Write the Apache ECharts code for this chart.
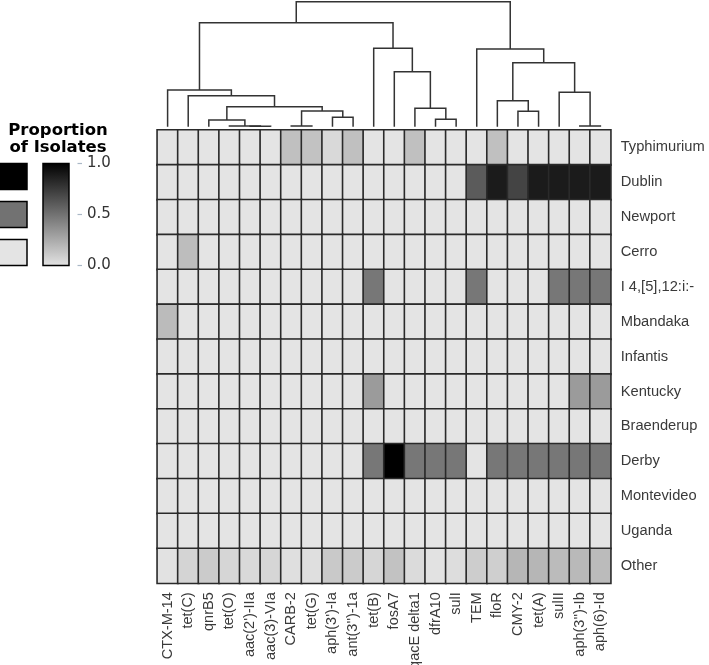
<!DOCTYPE html>
<html>
<head>
<meta charset="utf-8">
<script src="https://cdn.jsdelivr.net/npm/echarts@6.0.0/dist/echarts.min.js"></script>
<style>
html,body{margin:0;padding:0;background:#fff;}
#chart{width:709px;height:665px;}
</style>
</head>
<body>
<div id="chart"></div>
<script>
// ---------- DATA ----------
const genes = ['CTX-M-14','tet(C)','qnrB5','tet(O)',"aac(2')-IIa",'aac(3)-VIa','CARB-2','tet(G)',"aph(3')-Ia","ant(3'')-1a",
  'tet(B)','fosA7','qacE delta1','dfrA10','sulI','TEM','floR','CMY-2','tet(A)','sulII',"aph(3'')-Ib",'aph(6)-Id'];
const serotypes = ['Typhimurium','Dublin','Newport','Cerro','I 4,[5],12:i:-','Mbandaka','Infantis','Kentucky','Braenderup','Derby','Montevideo','Uganda','Other'];

const typhimurium = [0,0,0,0,0,0,0.16,0.15,0.05,0.16,0,0,0.16,0,0,0,0.16,0,0,0,0,0];
const dublin      = [0,0,0,0,0,0,0,0,0,0,0,0,0,0,0,0.6,0.88,0.7,0.88,0.88,0.88,0.88];
const newport     = [0,0,0,0,0,0,0,0,0,0,0,0,0,0,0,0,0,0,0,0,0,0];
const cerro       = [0,0.17,0,0,0,0,0,0,0,0,0,0,0,0,0,0,0,0,0,0,0,0];
const i4512       = [0,0,0,0,0,0,0,0,0,0,0.48,0,0,0,0,0.48,0,0,0,0.48,0.48,0.48];
const mbandaka    = [0.18,0,0,0,0,0,0,0,0,0,0,0,0,0,0,0,0,0,0,0,0,0];
const infantis    = [0,0,0,0,0,0,0,0,0,0,0,0,0,0,0,0,0,0,0,0,0,0];
const kentucky    = [0,0,0,0,0,0,0,0,0,0,0.32,0,0,0,0,0,0,0,0,0,0.32,0.32];
const braenderup  = [0,0,0,0,0,0,0,0,0,0,0,0,0,0,0,0,0,0,0,0,0,0];
const derby       = [0,0,0,0,0,0,0,0,0,0,0.48,1.0,0.48,0.48,0.48,0,0.48,0.48,0.48,0.48,0.48,0.48];
const montevideo  = [0,0,0,0,0,0,0,0,0,0,0,0,0,0,0,0,0,0,0,0,0,0];
const uganda      = [0,0,0,0,0,0,0,0,0,0,0,0,0,0,0,0,0,0,0,0,0,0];
const other       = [0.01,0.07,0.11,0.06,0.05,0.06,0.02,0.02,0.12,0.11,0.06,0.15,0.04,0.01,0.03,0.1,0.09,0.2,0.2,0.18,0.19,0.18];
const rowValues = [typhimurium,dublin,newport,cerro,i4512,mbandaka,infantis,kentucky,braenderup,derby,montevideo,uganda,other];

// Dendrogram merges (hclust style): negative = leaf (1-based column), positive = earlier merge (1-based); height relative to root
const dendroMerges = [
  [-5,-6,0.004],   // 1
  [-4,1,0.005],    // 2
  [-7,-8,0.005],   // 3
  [-21,-22,0.005], // 4
  [-3,2,0.053],    // 5
  [-14,-15,0.059], // 6
  [-9,-10,0.075],  // 7
  [-18,-19,0.123], // 8
  [3,7,0.125],     // 9
  [-13,6,0.147],   // 10
  [5,9,0.16],      // 11
  [-17,8,0.208],   // 12
  [-2,11,0.248],   // 13
  [-20,4,0.275],   // 14
  [-1,13,0.293],   // 15
  [-12,10,0.44],   // 16
  [12,14,0.512],   // 17
  [-16,17,0.621],  // 18
  [-11,16,0.627],  // 19
  [15,19,0.832],   // 20
  [20,18,1.0]      // 21
];

const legendTicks = [0.0, 0.5, 1.0];
const legendSwatches = [1.0, 0.5, 0.0];

// ---------- BUILD ----------
const heatData = [];
rowValues.forEach((vals, r) => vals.forEach((v, c) => heatData.push([c, r, v])));

const nodePos = []; // [x, h]
const dendroData = [];
function pos(ref) { return ref < 0 ? [-ref, 0] : nodePos[ref - 1]; }
dendroMerges.forEach(m => {
  const a = pos(m[0]), b = pos(m[1]);
  nodePos.push([(a[0] + b[0]) / 2, m[2]]);
  dendroData.push([a[0], a[1], b[0], b[1], m[2]]);
});

const GL = 157.3, GT = 130, GW = 453.4, GH = 453.3;
const lightC = '#e4e4e4', darkC = '#000000';
function grayOf(v){ const g = Math.round(228*(1-v)); const h = g.toString(16).padStart(2,'0'); return '#'+h+h+h; }

const cbX = 43, cbY = 163.5, cbW = 26, cbH = 102;
const graphics = [
  { type:'text', x:58, y:121.5, style:{ text:'Proportion\nof Isolates', align:'center', verticalAlign:'top',
      font:'bold 16.5px "DejaVu Sans"', fill:'#000', lineHeight:17.5 } },
  { type:'rect', shape:{x:cbX, y:cbY, width:cbW, height:cbH},
    style:{ fill: new echarts.graphic.LinearGradient(0,0,0,1,[{offset:0,color:darkC},{offset:1,color:lightC}]), stroke:'#000', lineWidth:1.5 } }
];
legendSwatches.forEach((v, i) => {
  graphics.push({ type:'rect', shape:{x:-1.5, y:163.5 + i*38, width:28.5, height:26},
    style:{ fill: grayOf(v), stroke:'#000', lineWidth:1.5 } });
});
legendTicks.forEach(t => {
  const y = cbY + cbH - t*cbH;
  graphics.push({ type:'line', shape:{x1:77.5, y1:y, x2:82, y2:y}, style:{stroke:'#aab8c6', lineWidth:1.2} });
  graphics.push({ type:'text', x:87, y:y, style:{ text:t.toFixed(1), verticalAlign:'middle', align:'left',
      font:'15px "DejaVu Sans"', fill:'#333' } });
});

const option = {
  backgroundColor:'#fff',
  animation:false,
  grid:[
    { left:GL, top:GT, width:GW, height:GH, containLabel:false, outerBoundsMode:'none' },
    { left:GL, top:1.7, width:GW, height:125, containLabel:false, outerBoundsMode:'none' }
  ],
  xAxis:[
    { type:'category', data:genes, gridIndex:0, position:'bottom',
      axisLine:{show:false}, axisTick:{show:false}, splitLine:{show:false},
      axisLabel:{ rotate:90, interval:0, margin:9, fontSize:14.5, color:'#3a3a3a', fontFamily:'"Liberation Sans", Arial, sans-serif' } },
    { type:'value', gridIndex:1, min:0.5, max:genes.length + 0.5, show:false }
  ],
  yAxis:[
    { type:'category', data:serotypes, gridIndex:0, inverse:true, position:'right',
      axisLine:{show:false}, axisTick:{show:false}, splitLine:{show:false},
      axisLabel:{ margin:10, fontSize:14.7, color:'#3a3a3a', fontFamily:'"Liberation Sans", Arial, sans-serif' } },
    { type:'value', gridIndex:1, min:0, max:1, show:false }
  ],
  visualMap:{ show:false, type:'continuous', min:0, max:1, dimension:2, seriesIndex:0,
    inRange:{ color:[lightC, darkC] } },
  series:[
    { type:'heatmap', xAxisIndex:0, yAxisIndex:0, data:heatData,
      itemStyle:{ borderColor:'#2a2a2a', borderWidth:1.6 },
      emphasis:{ disabled:true }, label:{show:false} },
    { type:'custom', xAxisIndex:1, yAxisIndex:1, data:dendroData,
      encode:{ x:[0,2], y:[1,3,4] },
      renderItem:function(params, api){
        const p1 = api.coord([api.value(0), api.value(1)]);
        const p2 = api.coord([api.value(0), api.value(4)]);
        const p3 = api.coord([api.value(2), api.value(4)]);
        const p4 = api.coord([api.value(2), api.value(3)]);
        return { type:'polyline', shape:{ points:[p1,p2,p3,p4] },
          style:{ stroke:'#333', lineWidth:1.5, fill:null } };
      },
      silent:true }
  ],
  graphic:{ elements: graphics }
};

const chart = echarts.init(document.getElementById('chart'), null, {renderer:'canvas'});
chart.setOption(option);
</script>
</body>
</html>
